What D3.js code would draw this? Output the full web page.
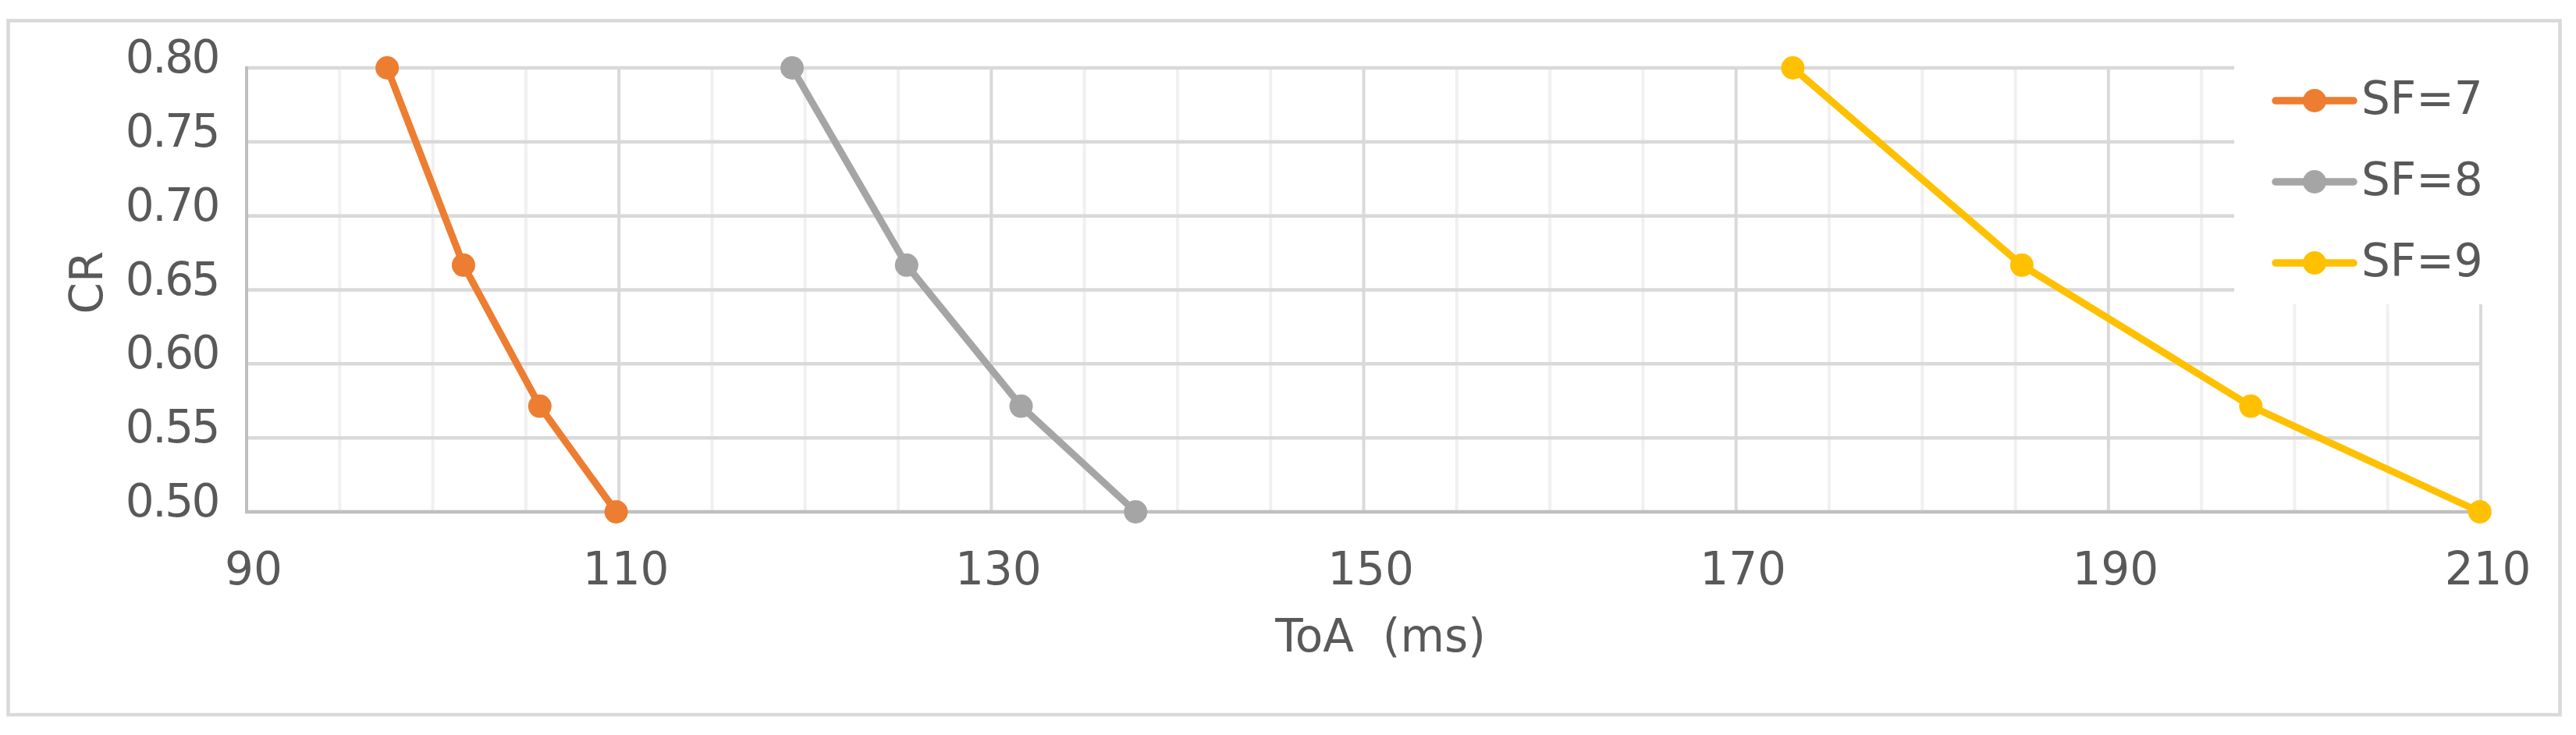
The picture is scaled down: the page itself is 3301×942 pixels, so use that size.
<!DOCTYPE html>
<html>
<head>
<meta charset="utf-8">
<script src="https://cdn.jsdelivr.net/npm/d3@7"></script>
<style>
  body { margin: 0; background: white; }
  text { font-family: "DejaVu Sans", Verdana, sans-serif; fill: #595959; font-size: 58px; }
</style>
</head>
<body>
<div id="svgcontainer"></div>
<script>
var width = 3301;
var height = 942;

// coding rate (y) and time on air in ms (x)
var crValues = [0.8, 0.6667, 0.5714, 0.5];
var seriesNames = ["SF=7", "SF=8", "SF=9"];
var toaSF7 = [97.55, 101.65, 105.75, 109.85];
var toaSF8 = [119.3, 125.45, 131.6, 137.75];
var toaSF9 = [173.05, 185.35, 197.65, 209.95];
var seriesColors = ["#ED7D31", "#A5A5A5", "#FFC000"];
var xTicks = [90, 110, 130, 150, 170, 190, 210];
var yTicks = [0.5, 0.55, 0.6, 0.65, 0.7, 0.75, 0.8];

var series = [toaSF7, toaSF8, toaSF9].map(function (toa, i) {
  return {
    name: seriesNames[i],
    color: seriesColors[i],
    points: toa.map(function (t, j) { return { x: t, y: crValues[j] }; })
  };
});

var svg = d3.select("#svgcontainer")
  .append("svg")
  .attr("width", width)
  .attr("height", height)
  .style("background-color", "white");

// outer chart border
svg.append("rect")
  .attr("x", 10.5)
  .attr("y", 26.5)
  .attr("width", 3270)
  .attr("height", 889.5)
  .style("fill", "white")
  .style("stroke", "#D9D9D9")
  .style("stroke-width", 4.5);

var x = d3.scaleLinear().domain([90, 210]).range([316, 3179]);
var y = d3.scaleLinear().domain([0.5, 0.8]).range([656, 87]);

// legend box hides grid in the top right corner
var legendLeft = 2863;
var legendBottom = 390;

// vertical grid, every 5 ms, darker on labelled ticks
var minorX = d3.range(95, 211, 5);
svg.append("g").selectAll("line")
  .data(minorX)
  .enter().append("line")
  .attr("x1", function (d) { return x(d); })
  .attr("x2", function (d) { return x(d); })
  .attr("y1", function (d) { return x(d) > legendLeft ? legendBottom : y(0.8); })
  .attr("y2", y(0.5))
  .style("stroke", function (d) { return (d - 90) % 20 === 0 ? "#D9D9D9" : "#F0F0F0"; })
  .style("stroke-width", 4);

// horizontal grid
svg.append("g").selectAll("line")
  .data(yTicks.slice(1))
  .enter().append("line")
  .attr("x1", x(90))
  .attr("x2", function (d) { return y(d) < legendBottom ? legendLeft : x(210); })
  .attr("y1", function (d) { return y(d); })
  .attr("y2", function (d) { return y(d); })
  .style("stroke", "#D9D9D9")
  .style("stroke-width", 4.5);

// axis lines
svg.append("line")
  .attr("x1", x(90)).attr("x2", x(90))
  .attr("y1", y(0.8) - 2).attr("y2", y(0.5) + 2)
  .style("stroke", "#BFBFBF").style("stroke-width", 4);
svg.append("line")
  .attr("x1", x(90) - 2).attr("x2", x(210))
  .attr("y1", y(0.5)).attr("y2", y(0.5))
  .style("stroke", "#BFBFBF").style("stroke-width", 4.5);

// tick labels
svg.append("g").selectAll("text")
  .data(yTicks)
  .enter().append("text")
  .attr("x", 280)
  .attr("y", function (d) { return y(d) + 6; })
  .attr("text-anchor", "end")
  .style("letter-spacing", "-2.5px")
  .text(d3.format(".2f"));

svg.append("g").selectAll("text")
  .data(xTicks)
  .enter().append("text")
  .attr("x", function (d) { return x(d) + 9; })
  .attr("y", 749)
  .attr("text-anchor", "middle")
  .text(function (d) { return d; });

// axis titles
svg.append("text")
  .attr("x", 1769)
  .attr("y", 835)
  .attr("text-anchor", "middle")
  .style("white-space", "pre")
  .attr("xml:space", "preserve")
  .text("ToA  (ms)");

svg.append("text")
  .attr("transform", "translate(131,362) rotate(-90)")
  .attr("text-anchor", "middle")
  .text("CR");

// lines and markers
var line = d3.line()
  .x(function (d) { return x(d.x); })
  .y(function (d) { return y(d.y); });

series.forEach(function (s) {
  svg.append("path")
    .datum(s.points)
    .attr("d", line)
    .style("fill", "none")
    .style("stroke", s.color)
    .style("stroke-width", 9)
    .style("stroke-linejoin", "round");
  svg.append("g").selectAll("circle")
    .data(s.points)
    .enter().append("circle")
    .attr("cx", function (d) { return x(d.x); })
    .attr("cy", function (d) { return y(d.y); })
    .attr("r", 15)
    .style("fill", s.color);
});

// legend
var legend = svg.append("g").selectAll("g")
  .data(series)
  .enter().append("g")
  .attr("transform", function (d, i) { return "translate(0," + (129 + i * 104) + ")"; });

legend.append("line")
  .attr("x1", 2916).attr("x2", 3016)
  .attr("y1", 0).attr("y2", 0)
  .style("stroke", function (d) { return d.color; })
  .style("stroke-width", 9.5)
  .style("stroke-linecap", "round");
legend.append("circle")
  .attr("cx", 2966).attr("cy", 0).attr("r", 15)
  .style("fill", function (d) { return d.color; });
legend.append("text")
  .attr("x", 3026)
  .attr("y", 17)
  .text(function (d) { return d.name; });
</script>
</body>
</html>
